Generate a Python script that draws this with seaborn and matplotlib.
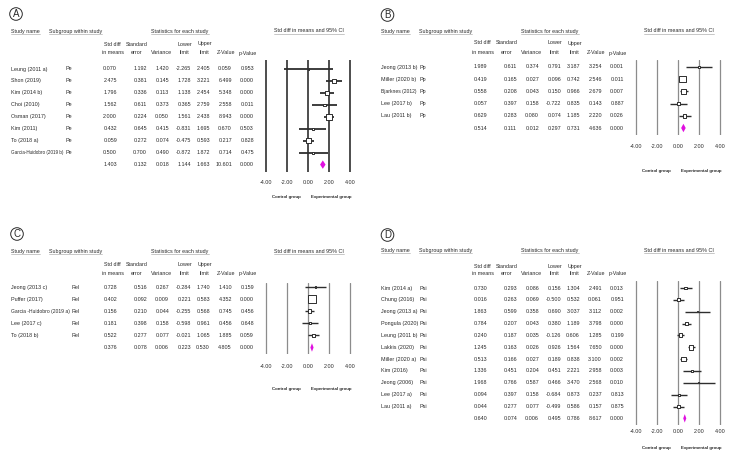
import numpy as np
import pandas as pd
import seaborn as sns
import matplotlib
matplotlib.use("Agg")
import matplotlib.pyplot as plt
from matplotlib.patches import Circle
from matplotlib import font_manager

# ---- data ----
# panel A (Pe)
a_study = ["Leung (2011 a)", "Shon (2019)", "Kim (2014 b)", "Choi (2010)", "Osman (2017)",
           "Kim (2011)", "To (2018 a)", "Garcia-Huidobro (2019 b)"]
a_d = [0.070, 2.475, 1.796, 1.562, 2.000, 0.432, 0.059, 0.500]
a_se = [1.192, 0.381, 0.336, 0.611, 0.224, 0.645, 0.272, 0.700]
a_var = [1.420, 0.145, 0.113, 0.373, 0.050, 0.415, 0.074, 0.490]
a_lo = [-2.265, 1.728, 1.138, 0.365, 1.561, -0.831, -0.475, -0.872]
a_hi = [2.405, 3.221, 2.454, 2.759, 2.438, 1.695, 0.593, 1.872]
a_z = [0.059, 6.499, 5.348, 2.558, 8.943, 0.670, 0.217, 0.714]
a_p = [0.953, 0.000, 0.000, 0.011, 0.000, 0.503, 0.828, 0.475]
a_total = [1.403, 0.132, 0.018, 1.144, 1.663, 10.601, 0.000]

# panel B (Pp)
b_study = ["Jeong (2013 b)", "Miller (2020 b)", "Bjarknes (2012)", "Lee (2017 b)", "Lau (2011 b)"]
b_d = [1.989, 0.419, 0.558, 0.057, 0.629]
b_se = [0.611, 0.165, 0.208, 0.397, 0.283]
b_var = [0.374, 0.027, 0.043, 0.158, 0.080]
b_lo = [0.791, 0.096, 0.150, -0.722, 0.074]
b_hi = [3.187, 0.742, 0.966, 0.835, 1.185]
b_z = [3.254, 2.546, 2.679, 0.143, 2.220]
b_p = [0.001, 0.011, 0.007, 0.887, 0.026]
b_total = [0.514, 0.111, 0.012, 0.297, 0.731, 4.636, 0.000]

# panel C (Rel)
c_study = ["Jeong (2013 c)", "Puffer (2017)", "Garcia -Huidobro (2019 a)", "Lee (2017 c)", "To (2018 b)"]
c_d = [0.728, 0.402, 0.156, 0.181, 0.522]
c_se = [0.516, 0.092, 0.210, 0.398, 0.277]
c_var = [0.267, 0.009, 0.044, 0.158, 0.077]
c_lo = [-0.284, 0.221, -0.255, -0.598, -0.021]
c_hi = [1.740, 0.583, 0.568, 0.961, 1.065]
c_z = [1.410, 4.352, 0.745, 0.456, 1.885]
c_p = [0.159, 0.000, 0.456, 0.648, 0.059]
c_total = [0.376, 0.078, 0.006, 0.223, 0.530, 4.805, 0.000]

# panel D (Psi)
d_study = ["Kim (2014 a)", "Chung (2016)", "Jeong (2013 a)", "Pongula (2020)", "Leung (2011 b)",
           "Lakkis (2020)", "Miller (2020 a)", "Kim (2016)", "Jeong (2006)", "Lee (2017 a)", "Lau (2011 a)"]
d_d = [0.730, 0.016, 1.863, 0.784, 0.240, 1.245, 0.513, 1.336, 1.968, 0.094, 0.044]
d_se = [0.293, 0.263, 0.599, 0.207, 0.187, 0.163, 0.166, 0.451, 0.766, 0.397, 0.277]
d_var = [0.086, 0.069, 0.358, 0.043, 0.035, 0.026, 0.027, 0.204, 0.587, 0.158, 0.077]
d_lo = [0.156, -0.500, 0.690, 0.380, -0.126, 0.926, 0.189, 0.451, 0.466, -0.684, -0.499]
d_hi = [1.304, 0.532, 3.037, 1.189, 0.606, 1.564, 0.838, 2.221, 3.470, 0.873, 0.586]
d_z = [2.491, 0.061, 3.112, 3.798, 1.285, 7.650, 3.100, 2.958, 2.568, 0.237, 0.157]
d_p = [0.013, 0.951, 0.002, 0.000, 0.199, 0.000, 0.002, 0.003, 0.010, 0.813, 0.875]
d_total = [0.640, 0.074, 0.006, 0.495, 0.786, 8.617, 0.000]

ticks = [-4, -2, 0, 2, 4]

# ---- style ----
sns.set_style("white")
names = {f.name for f in font_manager.fontManager.ttflist}
if "Liberation Sans Narrow" in names:
    FAM, FS = "Liberation Sans Narrow", 4.6
else:
    FAM, FS = "Liberation Sans", 3.9
plt.rcParams["font.family"] = [FAM, "DejaVu Sans"]
TXT = "#2a2a2a"
MAGENTA = "#e010e0"

fig = plt.figure(figsize=(7.39, 4.65), dpi=100)
bg = fig.add_axes([0, 0, 1, 1])
bg.set_xlim(0, 739)
bg.set_ylim(465, 0)
bg.axis("off")

# column header centres / value right edges (px, relative to panel)
col_heads = [("Std diff", "in means", 112.5), ("Standard", "error", 137), (None, "Variance", 162),
             ("Lower", "limit", 185), ("Upper", "limit", 205), (None, "Z-Value", 226), (None, "p-Value", 248)]
val_x = [117, 147, 169, 191, 210, 232, 254]

underline = []
fit = []   # (text, right limit in px) for long study names


def draw_panel(letter, study, group, d, se, var, lo, hi, z, p, total, lay):
    ox = lay["ox"]
    cx, cy = lay["circle"]
    bg.add_patch(Circle((ox + cx, cy), 6.3, fill=False, lw=0.7, ec=TXT))
    bg.text(ox + cx, cy + 0.4, letter, ha="center", va="center", fontsize=7, color=TXT,
            family=["Liberation Sans", "DejaVu Sans"])

    hy = lay["head_y"]
    underline.append(bg.text(ox + 11, hy, "Study name", va="center", fontsize=FS, color=TXT))
    underline.append(bg.text(ox + 49, hy, "Subgroup within study", va="center", fontsize=FS, color=TXT))
    underline.append(bg.text(ox + 180, hy, "Statistics for each study", ha="center", va="center",
                             fontsize=FS, color=TXT))
    underline.append(bg.text(ox + 309, hy, "Std diff in means and 95% CI", ha="center", va="center",
                             fontsize=FS, color=TXT))

    for top, bot, x in col_heads:
        if top:
            bg.text(ox + x, lay["col_y1"], top, ha="center", va="center", fontsize=FS, color=TXT)
        bg.text(ox + x, lay["col_y2"], bot, ha="center", va="center", fontsize=FS, color=TXT)

    n = len(study)
    rows = lay["row0"] + lay["step"] * np.arange(n + 1)
    table = np.column_stack([d, se, var, lo, hi, z, p])
    table = np.vstack([table, total])
    for i in range(n + 1):
        if i < n:
            t = bg.text(ox + 11, rows[i], study[i], va="center", fontsize=FS, color=TXT)
            fit.append((t, ox + lay["grp_x"] - 2))
            bg.text(ox + lay["grp_x"], rows[i], group, va="center", fontsize=FS, color=TXT)
        for j in range(7):
            bg.text(ox + val_x[j], rows[i], f"{table[i, j]:.3f}", ha="right", va="center",
                    fontsize=FS, color=TXT)

    # forest plot axes, y in pixel units so rows line up with the table
    left, right = ox + 260.5, ox + 355.5
    top, bottom = lay["line_top"], lay["line_bot"]
    ax = fig.add_axes([left / 739, 1 - bottom / 465, (right - left) / 739, (bottom - top) / 465])
    heavy = lay["heavy"]
    for t in ticks:
        ax.axvline(t, color="#4d4d4d" if heavy else "#8c8c8c", lw=1.4 if heavy else 0.9, zorder=1)

    total_w = 1 / total[2]
    df = pd.DataFrame({"d": d, "lo": lo, "hi": hi, "row": rows[:n],
                       "share": (1 / np.array(var)) / total_w})
    ax.hlines(df["row"], df["lo"], df["hi"], color="#2e2e2e", lw=1.3 if heavy else 1.0, zorder=2)
    sns.scatterplot(data=df, x="d", y="row", size="share", size_norm=(0, 1), sizes=(0, 46),
                    marker="s", color="white", edgecolor="#2e2e2e", linewidth=0.7,
                    legend=False, ax=ax, zorder=3)
    ys = rows[n]
    h = 4.2
    ax.fill([total[3], total[0], total[4], total[0]], [ys, ys - h, ys, ys + h],
            color=MAGENTA, lw=0, zorder=3)

    ax.set_xlim(-4.5, 4.5)
    ax.set_ylim(bottom, top)
    ax.set_xticks(ticks)
    ax.set_xticklabels([f"{t:.2f}" for t in ticks])
    ax.set_yticks([])
    ax.set_xlabel("")
    ax.set_ylabel("")
    ax.tick_params(axis="x", length=0, pad=lay["pad"] * 0.72, labelsize=FS, labelcolor=TXT)
    for s in ax.spines.values():
        s.set_visible(False)
    ax.patch.set_alpha(0)

    px = lambda v: ox + 265.7 + (v + 4) * 10.55
    bg.text(px(-2), lay["lab_y"], "Control group", ha="center", va="center", fontsize=FS * 0.8,
            color=TXT, fontweight="bold")
    bg.text(px(2.2), lay["lab_y"], "Experimental group", ha="center", va="center",
            fontsize=FS * 0.8, color=TXT, fontweight="bold")


lay_a = dict(ox=0, circle=(16, 14), head_y=31, col_y1=44, col_y2=53, row0=69, step=11.95, grp_x=66,
             line_top=60, line_bot=172, pad=7.5, lab_y=197, heavy=True)
lay_b = dict(ox=370, circle=(17.5, 15), head_y=31, col_y1=43, col_y2=53, row0=67, step=12.2, grp_x=49,
             line_top=60, line_bot=135, pad=8.5, lab_y=171, heavy=False)
lay_c = dict(ox=0, circle=(17, 234), head_y=251, col_y1=264, col_y2=273, row0=287, step=12.1, grp_x=71,
             line_top=283, line_bot=354, pad=9.5, lab_y=389, heavy=False)
lay_d = dict(ox=370, circle=(17.5, 235), head_y=250, col_y1=266, col_y2=273, row0=288, step=11.85,
             grp_x=50, line_top=281, line_bot=425, pad=3.5, lab_y=448, heavy=False)

draw_panel("A", a_study, "Pe", a_d, a_se, a_var, a_lo, a_hi, a_z, a_p, a_total, lay_a)
draw_panel("B", b_study, "Pp", b_d, b_se, b_var, b_lo, b_hi, b_z, b_p, b_total, lay_b)
draw_panel("C", c_study, "Rel", c_d, c_se, c_var, c_lo, c_hi, c_z, c_p, c_total, lay_c)
draw_panel("D", d_study, "Psi", d_d, d_se, d_var, d_lo, d_hi, d_z, d_p, d_total, lay_d)

fig.canvas.draw()
renderer = fig.canvas.get_renderer()
inv = bg.transData.inverted()

# shrink the study names that would run into the subgroup column
for t, limit in fit:
    bb = t.get_window_extent(renderer)
    (x0, _), (x1, _) = inv.transform([[bb.x0, bb.y0], [bb.x1, bb.y1]])
    if x1 > limit:
        t.set_fontsize(t.get_fontsize() * (limit - x0) / (x1 - x0))

# thin underline under the top headers
for t in underline:
    bb = t.get_window_extent(renderer)
    (x0, y0), (x1, y1) = inv.transform([[bb.x0, bb.y0], [bb.x1, bb.y1]])
    bg.plot([x0, x1], [max(y0, y1) + 0.5] * 2, color="#b0b0b0", lw=0.5)

fig.savefig("out.png", dpi=100)
